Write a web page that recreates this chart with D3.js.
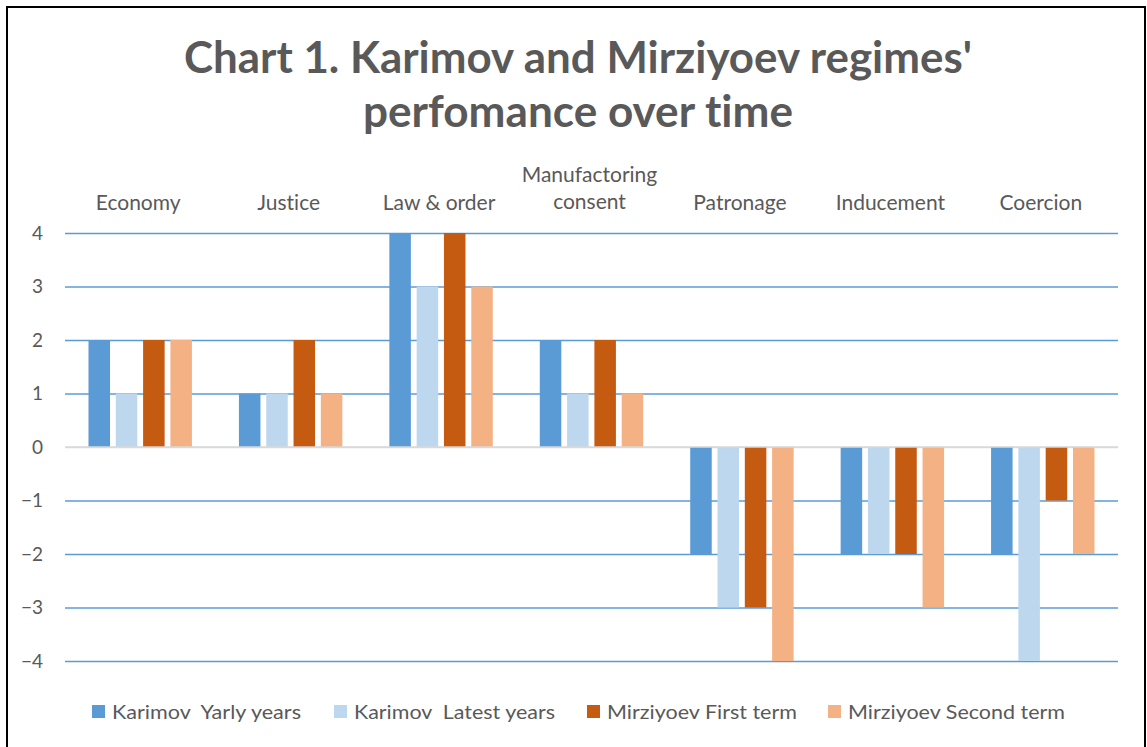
<!DOCTYPE html>
<html><head><meta charset="utf-8">
<script src="https://cdn.jsdelivr.net/npm/d3@7"></script>
<style>body{margin:0;background:#fff}svg{display:block}text{font-variant-ligatures:none}</style>
</head><body>
<svg id="c" width="1147" height="747"></svg>
<script>
const categories = ["Economy","Justice","Law & order","Manufactoring consent","Patronage","Inducement","Coercion"];
const seriesNames = ["Karimov  Yarly years","Karimov  Latest years","Mirziyoev First term","Mirziyoev Second term"];
const karimovEarly  = [2,1,4,2,-2,-2,-2];
const karimovLatest = [1,1,3,1,-3,-2,-4];
const mirzFirst     = [2,2,4,2,-3,-2,-1];
const mirzSecond    = [2,1,3,1,-4,-3,-2];
const yTicks = [-4,-3,-2,-1,0,1,2,3,4];
const titleLines = ["Chart 1. Karimov and Mirziyoev regimes'","perfomance over time"];
const colors = ["#5b9bd5","#bdd7ee","#c55a11","#f4b183"];

const seriesValues = [karimovEarly,karimovLatest,mirzFirst,mirzSecond];
const svg = d3.select("#c");
const font = "Lato, 'Open Sans', sans-serif";
const textCol = "#595959";

svg.append("rect").attr("width",1147).attr("height",747).attr("fill","#fff");
svg.append("rect").attr("x",7).attr("y",7).attr("width",1138).attr("height",760)
  .attr("fill","none").attr("stroke","#000").attr("stroke-width",2);

const L=65,R=1118;
const y = d3.scaleLinear().domain([-4,4]).range([661,233]);
const x0 = d3.scaleBand().domain(categories).range([L,R]);
const bw = x0.bandwidth();
const x1 = d3.scaleBand().domain(seriesNames).range([23.5,bw-23.5]).paddingInner(0.212);

// gridlines + y labels via axis
const yAxis = d3.axisLeft(y).tickValues(yTicks).tickSize(-(R-L)).tickPadding(22).tickFormat(d3.format("d"));
const ga = svg.append("g").attr("transform",`translate(${L},0)`).call(yAxis);
ga.select(".domain").remove();
ga.selectAll(".tick line").attr("stroke",d=>d===0?"#d9d9d9":"#5b9bd5").attr("stroke-width",1.6);
ga.selectAll(".tick text").attr("fill",textCol).attr("font-family",font).attr("font-size",19);

// bars
const data = [];
categories.forEach((c,i)=>seriesNames.forEach((s,j)=>data.push({c,s,j,v:seriesValues[j][i]})));
svg.append("g").selectAll("rect").data(data).join("rect")
  .attr("x",d=>x0(d.c)+x1(d.s)).attr("width",x1.bandwidth())
  .attr("y",d=>Math.min(y(d.v),y(0))).attr("height",d=>Math.abs(y(d.v)-y(0)))
  .attr("fill",d=>colors[d.j]);

// zero line on top
svg.append("line").attr("x1",L).attr("x2",R).attr("y1",y(0)).attr("y2",y(0))
  .attr("stroke","#d9d9d9").attr("stroke-width",1.6);

// category labels (wrapped)
const cg = svg.append("g").attr("font-family",font).attr("font-size",21).attr("fill",textCol).attr("text-anchor","middle");
categories.forEach(c=>{
  const cx = x0(c)+bw/2-2;
  const t = cg.append("text").attr("x",cx).attr("y",210).text(c);
  if (t.node().getComputedTextLength() > bw-10) {
    const words = c.split(" ");
    t.text(null);
    t.attr("y",182);
    words.forEach((w,k)=>t.append("tspan").attr("x",cx).attr("dy",k?26.5:0).text(w));
  }
});

// title
const tg = svg.append("g").attr("font-family",font).attr("font-weight","bold").attr("font-size",44).attr("fill",textCol).attr("text-anchor","middle");
const tW = [788,430];
titleLines.forEach((s,i)=>{
  tg.append("text").attr("x",578).attr("y",73+i*54).attr("textLength",tW[i]).attr("lengthAdjust","spacingAndGlyphs").text(s);
});

// legend
const legX = [92,334,587,828];
const legW = [189,201,190,217];
const lg = svg.append("g").attr("font-family",font).attr("font-size",20).attr("fill",textCol);
seriesNames.forEach((s,j)=>{
  lg.append("rect").attr("x",legX[j]).attr("y",705).attr("width",13).attr("height",13).attr("fill",colors[j]);
  lg.append("text").attr("x",legX[j]+20).attr("y",719).attr("textLength",legW[j]).attr("lengthAdjust","spacingAndGlyphs").attr("xml:space","preserve").style("white-space","pre").text(s);
});
</script>
</body></html>
